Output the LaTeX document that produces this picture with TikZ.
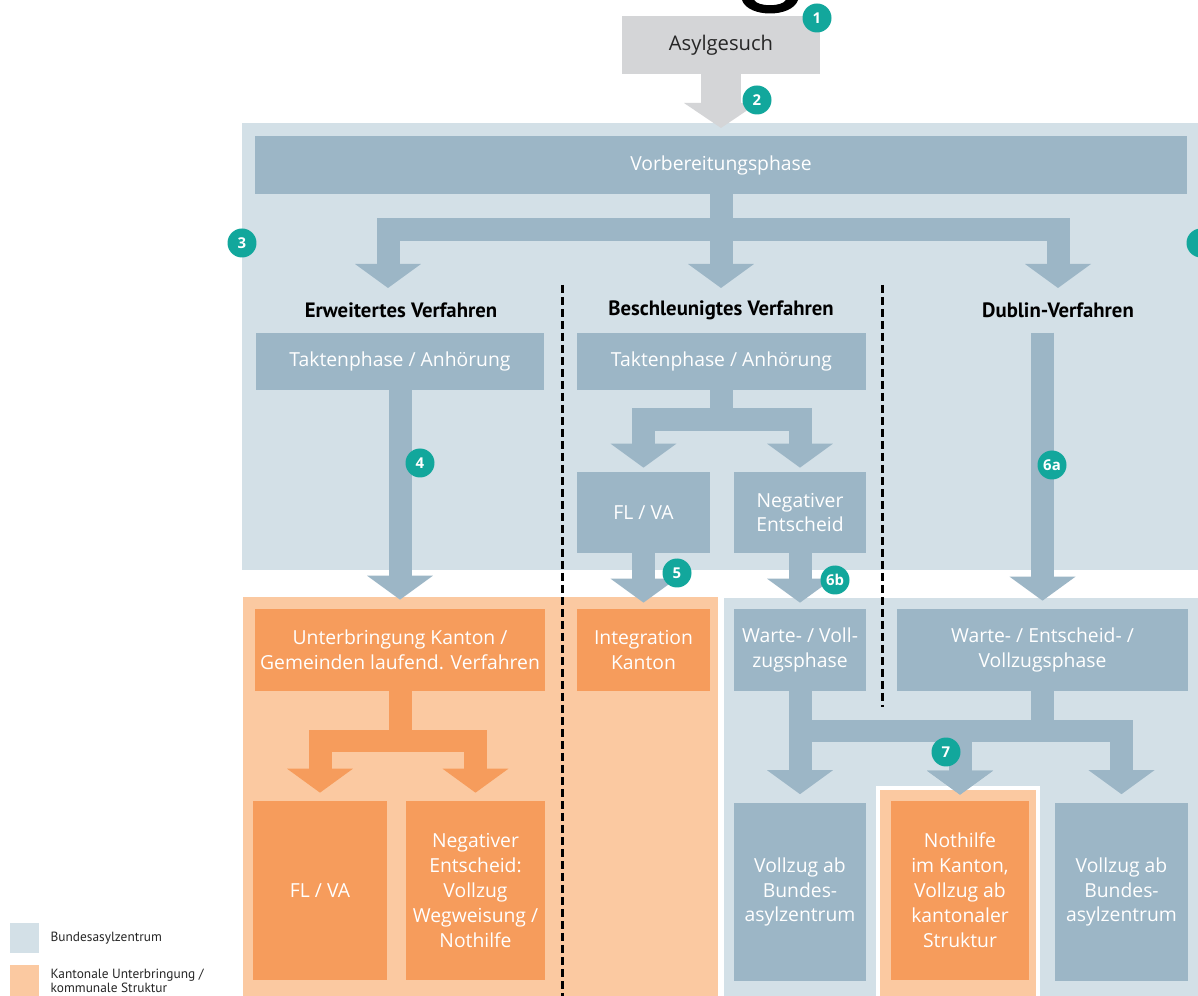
\documentclass[tikz,border=0pt]{standalone}
\usepackage{fontspec}
\setmainfont{Open Sans}
\newfontfamily\headfont{PT Sans}
\usetikzlibrary{arrows.meta,positioning}

\definecolor{BundClr}{HTML}{D3E0E7}
\definecolor{BoxClr}{HTML}{9CB6C6}
\definecolor{KantClr}{HTML}{FBC9A1}
\definecolor{OrangeClr}{HTML}{F69C5C}
\definecolor{GrayClr}{HTML}{D4D5D7}
\definecolor{NumClr}{HTML}{12A79C}

\tikzset{
  bbox/.style={fill=BoxClr, text=white, align=center, inner sep=0pt,
    font=\fontsize{11}{14.2}\selectfont},
  obox/.style={bbox, fill=OrangeClr, text=white},
  head/.style={font=\headfont\bfseries\fontsize{11.8}{13}\selectfont},
  flow/.style={draw=BoxClr, line width=0.46cm, line join=miter,
    -{Triangle[length=0.48cm, width=1.32cm, line width=0pt]}},
  oflow/.style={flow, draw=OrangeClr},
  num/.style={circle, fill=NumClr, text=white, inner sep=0pt, minimum size=0.58cm,
    font=\fontsize{8.5}{9}\selectfont\bfseries},
  sep/.style={line width=0.06cm, dash pattern=on 0.16cm off 0.08cm},
  legend/.style={font=\headfont\fontsize{7.6}{7}\selectfont, text=black!85, align=left,
    inner sep=0pt},
}

\begin{document}
\begin{tikzpicture}[x=0.02cm, y=-0.02cm]
\useasboundingbox (0,0) rectangle (1198,996);
\clip (0,0) rectangle (1198,996);
\fill[white] (0,0) rectangle (1198,996);

% Areas.
\fill[BundClr] (242,123) rectangle (1198,570);
\fill[BundClr] (724,598) rectangle (1198,996);
\fill[KantClr] (243,597) rectangle (718,996);
\draw[white, line width=0.08cm, fill=KantClr] (878,788) rectangle (1038,1010);

% Bit of a letter at the top edge.
\fill[black] (742,0) .. controls (748,18) and (792,18) .. (798,0) -- (786,0)
  .. controls (782,7) and (758,7) .. (754,0) -- cycle;

% Separators.
\draw[sep] (562,285) -- (562,996);
\draw[sep] (882,285) -- (882,707);

% Boxes.
\node[fill=GrayClr, text=black!85, minimum width=3.98cm, minimum height=1.16cm,
  font=\fontsize{11.5}{12}\selectfont] (asyl) at (721,45) {Asylgesuch};
\node[bbox, minimum width=18.64cm, minimum height=1.16cm] (vorb) at (721,165) {Vorbereitungsphase};

\node[head] (erw) at (401,310) {Erweitertes Verfahren};
\node[head] (besch) at (721,310) {Beschleunigtes Verfahren};
\node[head] (dub) at (1058,310) {Dublin-Verfahren};

\node[bbox, minimum width=5.78cm, minimum height=1.14cm] (taktE) at (400,361.5) {Taktenphase / Anhörung};
\node[bbox, minimum width=5.78cm, minimum height=1.14cm] (taktB) at (721.5,361.5) {Taktenphase / Anhörung};

\node[bbox, minimum width=2.66cm, minimum height=1.62cm] (flvaB) at (643.5,512.5) {FL / VA};
\node[bbox, minimum width=2.64cm, minimum height=1.62cm] (negB) at (800,512.5) {Negativer\\Entscheid};

\node[obox, minimum width=5.82cm, minimum height=1.64cm] (unter) at (400,650) {Unterbringung Kanton /\\Gemeinden laufend. Verfahren};
\node[obox, minimum width=2.66cm, minimum height=1.64cm] (integ) at (643.5,650) {Integration\\Kanton};
\node[bbox, minimum width=2.64cm, minimum height=1.64cm] (warteB) at (800,650) {Warte- / Voll-\\zugsphase};
\node[bbox, minimum width=5.82cm, minimum height=1.64cm] (warteD) at (1042.5,650) {Warte- / Entscheid- /\\Vollzugsphase};

\node[obox, minimum width=2.68cm, minimum height=3.58cm] (flvaK) at (320,890.5) {FL / VA};
\node[obox, minimum width=2.78cm, minimum height=3.58cm] (negK) at (475.5,890.5) {Negativer\\Entscheid:\\Vollzug\\Wegweisung /\\Nothilfe};
\node[bbox, minimum width=2.66cm, minimum height=3.58cm] (vollzL) at (800,892) {Vollzug ab\\Bundes-\\asylzentrum};
\node[obox, minimum width=2.76cm, minimum height=3.58cm] (noth) at (960,890.5) {Nothilfe\\im Kanton,\\Vollzug ab\\kantonaler\\Struktur};
\node[bbox, minimum width=2.66cm, minimum height=3.58cm] (vollzR) at (1121.5,892) {Vollzug ab\\Bundes-\\asylzentrum};

% Arrows.
\coordinate (asylIn) at (721,128);
\draw[draw=GrayClr, line width=0.8cm,
  -{Triangle[length=0.5cm, width=1.48cm, line width=0pt]}] (asyl.south) -- (asylIn);

\coordinate (split1) at (721,230);
\coordinate (erwIn) at (388,288);
\coordinate (beschIn) at (721,288);
\coordinate (dubIn) at (1058,288);
\draw[flow] (vorb.south) -- (vorb.south |- split1) -| (erwIn);
\draw[flow] (vorb.south) -- (beschIn);
\draw[flow] (vorb.south) -- (vorb.south |- split1) -| (dubIn);

\coordinate (split2) at (721,419.5);
\draw[flow, shorten >=0.08cm] (taktB.south) -- (taktB.south |- split2) -| (flvaB.north);
\draw[flow, shorten >=0.08cm] (taktB.south) -- (taktB.south |- split2) -| (negB.north);

\draw[flow, shorten >=0.18cm] (taktE.south) -- (unter.north);
\draw[flow, shorten >=0.12cm] (flvaB.south) -- (integ.north);
\draw[flow, shorten >=0.12cm] (negB.south) -- (warteB.north);
\coordinate (dubTop) at (warteD.north |- taktB.north);
\draw[flow, shorten >=0.16cm] (dubTop) -- (warteD.north);

\coordinate (split3) at (400,741);
\draw[oflow, shorten >=0.16cm] (unter.south) -- (unter.south |- split3) -| (flvaK.north);
\draw[oflow, shorten >=0.16cm] (unter.south) -- (unter.south |- split3) -| (negK.north);

\coordinate (split4) at (800,731);
\draw[flow, shorten >=0.16cm] (warteB.south) -- (vollzL.north);
\draw[flow, shorten >=0.12cm] (warteB.south) -- (warteB.south |- split4) -| (noth.north);
\draw[flow, shorten >=0.12cm] (warteD.south) -- (warteD.south |- split4) -| (noth.north);
\draw[flow, shorten >=0.16cm] (warteD.south) -- (warteD.south |- split4) -| (vollzR.north);

% Numbers.
\node[num] (n1) at (817,18) {1};
\node[num] (n2) at (757,100) {2};
\node[num] (n3) at (242,243) {3};
\node[num] (n3r) at (1201,243) {};
\node[num] (n4) at (420,463) {4};
\node[num] (n5) at (677,573) {5};
\node[num] (n6a) at (1052,465) {6a};
\node[num] (n6b) at (835,580) {6b};
\node[num] (n7) at (946,752) {7};

% Legend.
\node[fill=BundClr, minimum width=0.58cm, minimum height=0.6cm, inner sep=0pt] (keyB) at (24.5,938) {};
\node[fill=KantClr, minimum width=0.58cm, minimum height=0.62cm, inner sep=0pt] (keyK) at (24.5,980.5) {};
\node[legend, right=0.22cm of keyB] (txtB) {Bundesasylzentrum};
\node[legend, right=0.22cm of keyK] (txtK) {Kantonale Unterbringung /\\kommunale Struktur};

\end{tikzpicture}
\end{document}
